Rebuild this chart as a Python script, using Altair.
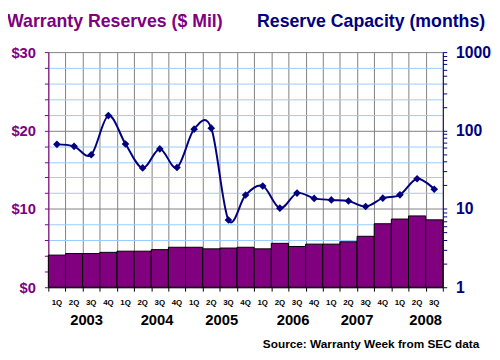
import altair as alt
import pandas as pd

# ---- data ----
quarters = ["1Q", "2Q", "3Q", "4Q"] * 5 + ["1Q", "2Q", "3Q"]
reserves = [4.1, 4.3, 4.3, 4.45, 4.6, 4.6, 4.8, 5.1, 5.1, 4.9, 5.0, 5.1,
            4.9, 5.6, 5.2, 5.5, 5.5, 5.8, 6.5, 8.1, 8.7, 9.1, 8.6]
capacity = [66.5, 62.8, 49, 155, 67.3, 33.3, 58.2, 33.7, 104, 107, 7.2, 15,
            19.6, 10.2, 15.9, 13.6, 13.0, 12.6, 10.7, 13.7, 15.1, 24.2, 17.8]
years = ["2003", "2004", "2005", "2006", "2007", "2008"]
year_pos = [2.23, 6.34, 10.11, 14.27, 18.0, 22.0]   # centre, in quarter units
left_ticks = list(range(0, 31, 2))
right_ticks = [m * 10 ** e for e in range(3) for m in range(1, 10)] + [1000]

PURPLE = "#800080"
NAVY = "#000080"
FONT = "Liberation Sans"
W, H = 401, 239

df = pd.DataFrame({
    "q0": list(range(len(quarters))),
    "quarter": quarters,
    "reserves": reserves,
    "capacity": capacity,
})
df["q1"] = df["q0"] + 1
df["qc"] = df["q0"] + 0.5
ydf = pd.DataFrame({"year": years, "pos": year_pos})

xscale = alt.Scale(domain=[0, len(quarters)], nice=False, zero=False)
xaxis = alt.Axis(values=list(range(len(quarters) + 1)), labels=False, title=None,
                 tickColor="black", tickSize=4, domainColor="black",
                 grid=True, gridColor="#808080", gridWidth=1)

laxis = alt.Axis(orient="left", values=left_ticks, title=None,
                 labelExpr="datum.value % 10 == 0 ? '$' + datum.value : ''",
                 labelColor=PURPLE, labelFont=FONT, labelFontSize=15,
                 labelFontWeight="bold", labelPadding=9, labelOverlap=False,
                 tickColor=PURPLE, tickSize=4, domainColor=PURPLE,
                 grid=True, gridWidth=1,
                 gridColor={"condition": {"test": "datum.value % 10 == 0", "value": "#808080"},
                            "value": "#99CCFF"})
raxis = alt.Axis(orient="right", values=right_ticks, title=None,
                 labelExpr="(datum.value == 1 || datum.value == 10 || datum.value == 100 || datum.value == 1000) ? format(datum.value, 'd') : ''",
                 labelColor=NAVY, labelFont=FONT, labelFontSize=16,
                 labelFontWeight="bold", labelPadding=9, labelOverlap=False,
                 tickColor=NAVY, tickSize=4, domainColor=NAVY, grid=False)

base = alt.Chart(df)

bars = base.mark_bar(color=PURPLE, stroke="black", strokeWidth=1).encode(
    x=alt.X("q0:Q", scale=xscale, axis=xaxis),
    x2="q1:Q",
    y=alt.Y("reserves:Q", scale=alt.Scale(domain=[0, 30], nice=False), axis=laxis),
    y2=alt.datum(0),
)

qlabels = base.mark_text(font=FONT, fontSize=8, fontWeight="bold",
                         baseline="alphabetic", color="black").encode(
    x=alt.X("qc:Q", scale=xscale, axis=xaxis),
    y=alt.value(H + 18),
    text="quarter:N",
)

ylabels = alt.Chart(ydf).mark_text(font=FONT, fontSize=15, fontWeight="bold",
                                   baseline="alphabetic", color="black").encode(
    x=alt.X("pos:Q", scale=xscale, axis=xaxis),
    y=alt.value(H + 38),
    text="year:N",
)

t1 = alt.Chart(pd.DataFrame({"t": ["Warranty Reserves ($ Mil)"]})).mark_text(
    font=FONT, fontSize=18, fontWeight="bold", color=PURPLE,
    align="left", baseline="alphabetic").encode(
    x=alt.value(-42), y=alt.value(-26), text="t:N")
t2 = alt.Chart(pd.DataFrame({"t": ["Reserve Capacity (months)"]})).mark_text(
    font=FONT, fontSize=18, fontWeight="bold", color=NAVY,
    align="right", baseline="alphabetic").encode(
    x=alt.value(444), y=alt.value(-26), text="t:N")
src = alt.Chart(pd.DataFrame({"t": ["Source: Warranty Week from SEC data"]})).mark_text(
    font=FONT, fontSize=12, fontWeight="bold", color="black",
    align="right", baseline="alphabetic").encode(
    x=alt.value(438), y=alt.value(301), text="t:N")

left = alt.layer(bars, qlabels, ylabels, t1, t2, src)

yr = alt.Y("capacity:Q", scale=alt.Scale(type="log", domain=[1, 1000], nice=False),
           axis=raxis)
line = base.mark_line(color=NAVY, strokeWidth=2, interpolate="cardinal").encode(
    x=alt.X("qc:Q", scale=xscale, axis=xaxis), y=yr)
pts = base.mark_point(shape="diamond", filled=True, color=NAVY, size=60, opacity=1).encode(
    x=alt.X("qc:Q", scale=xscale, axis=xaxis), y=yr)
right = alt.layer(line, pts)

chart = alt.layer(left, right).resolve_scale(y="independent").properties(
    width=W, height=H,
    autosize=alt.AutoSizeParams(type="none"),
    padding={"left": 41, "top": 42, "right": 50, "bottom": 63},
    background="white",
).configure_view(stroke=None)

chart.save("out.html", embed_options={"renderer": "svg", "actions": False})
